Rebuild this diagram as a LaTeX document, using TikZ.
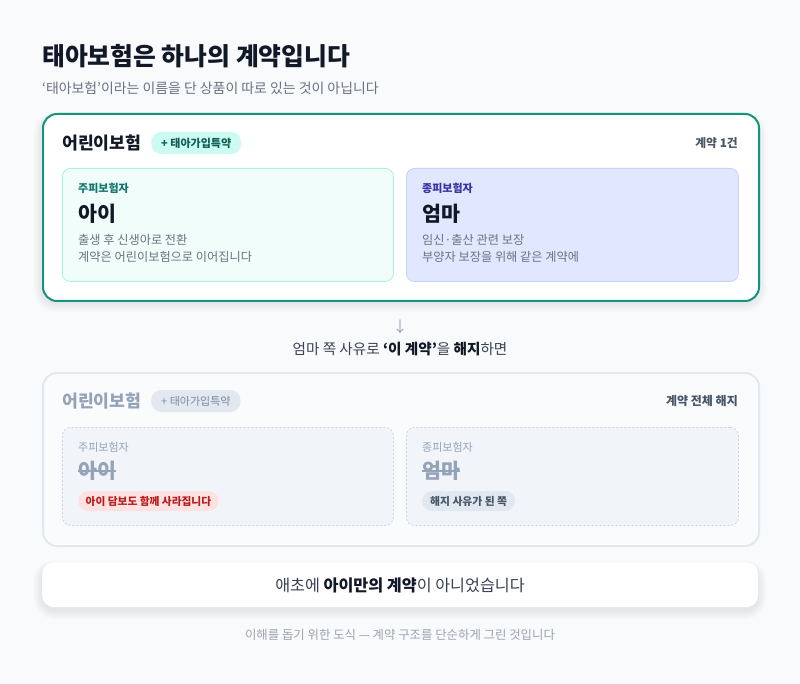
\documentclass[tikz,border=0pt]{standalone}
\usepackage{fontspec}
\setmainfont{Noto Sans CJK KR}
\definecolor{bgc}{HTML}{F8FAFC}
\definecolor{ink}{HTML}{111827}
\definecolor{subg}{HTML}{6B7280}
\definecolor{tealb}{HTML}{14937F}
\definecolor{pilltf}{HTML}{CCFBF1}
\definecolor{pilltt}{HTML}{115E59}
\definecolor{boxtf}{HTML}{F0FDFA}
\definecolor{boxtb}{HTML}{A7F3E0}
\definecolor{labt}{HTML}{0F766E}
\definecolor{boxif}{HTML}{E0E7FF}
\definecolor{boxib}{HTML}{C7D2FE}
\definecolor{labi}{HTML}{3730A3}
\definecolor{desc}{HTML}{6B7280}
\definecolor{meta}{HTML}{4B5563}
\definecolor{card2f}{HTML}{FAFBFC}
\definecolor{card2b}{HTML}{E2E8F0}
\definecolor{mute}{HTML}{94A3B8}
\definecolor{boxgf}{HTML}{F1F5F9}
\definecolor{boxgb}{HTML}{CBD5E1}
\definecolor{redf}{HTML}{FEE2E2}
\definecolor{redt}{HTML}{B91C1C}
\definecolor{grayf}{HTML}{E2E8F0}
\definecolor{grayt}{HTML}{475569}
\definecolor{midt}{HTML}{374151}
\definecolor{foot}{HTML}{9CA3AF}
\tikzset{
  txt/.style={inner sep=0pt, anchor=west},
  rtxt/.style={inner sep=0pt, anchor=east},
  ctxt/.style={inner sep=0pt, anchor=center},
  cardbox/.style={rounded corners=14pt, anchor=north west, inner sep=0pt},
  subbox/.style={rounded corners=8pt, anchor=north west, inner sep=0pt, line width=0.8pt},
  pill/.style={rounded corners=10pt, inner xsep=10pt, inner ysep=0pt, minimum height=22pt, anchor=west},
  shade1/.style={fill=black, fill opacity=0.014},
}
\begin{document}
\begin{tikzpicture}[x=1pt,y=-1pt]
\fill[bgc] (0,0) rectangle (800,684);
\useasboundingbox (0,0) rectangle (800,684);

% Title
\node[txt, font=\fontsize{24.8}{28}\selectfont\bfseries, text=ink] (title) at (42,56) {태아보험은 하나의 계약입니다};
\node[txt, font=\fontsize{13.9}{16}\selectfont, text=subg] (subtitle) at (42,88) {‘태아보험’이라는 이름을 단 상품이 따로 있는 것이 아닙니다};

% soft shadows
\foreach \d in {1,3,5,7,9}{
  \fill[shade1, rounded corners=14pt+\d pt] (42-\d*0.9,113+4-\d*0.6) rectangle (758+\d*0.9,300+3+\d);
  \fill[shade1, rounded corners=12pt+\d pt] (42-\d*0.9,562+4-\d*0.6) rectangle (758+\d*0.9,607+3+\d);
}

% Card 1
\node[cardbox, draw=tealb, line width=2pt, fill=white, minimum width=716pt, minimum height=187pt] (card1) at (42,113) {};
\node[txt, font=\fontsize{17.2}{20}\selectfont\bfseries, text=ink] (h1) at (62,143) {어린이보험};
\node[pill, fill=pilltf, text=pilltt, font=\fontsize{11}{13}\selectfont\bfseries] (p1) at (151,143) {+ 태아가입특약};
\node[rtxt, font=\fontsize{11.8}{14}\selectfont\bfseries, text=meta] (m1) at (738,143) {계약 1건};

\node[subbox, draw=boxtb, fill=boxtf, minimum width=331pt, minimum height=113pt] (b1l) at (62,168) {};
\node[txt, font=\fontsize{11}{13}\selectfont\bfseries, text=labt] (l1l) at (78,188) {주피보험자};
\node[txt, font=\fontsize{20.6}{24}\selectfont\bfseries, text=ink] (n1l) at (78,214) {아이};
\node[txt, font=\fontsize{12.2}{14}\selectfont, text=desc] (d1l) at (78,240) {출생 후 신생아로 전환};
\node[txt, font=\fontsize{12.2}{14}\selectfont, text=desc] (e1l) at (78,257) {계약은 어린이보험으로 이어집니다};

\node[subbox, draw=boxib, fill=boxif, minimum width=332pt, minimum height=113pt] (b1r) at (406,168) {};
\node[txt, font=\fontsize{11}{13}\selectfont\bfseries, text=labi] (l1r) at (422,188) {종피보험자};
\node[txt, font=\fontsize{20.6}{24}\selectfont\bfseries, text=ink] (n1r) at (422,214) {엄마};
\node[txt, font=\fontsize{12.2}{14}\selectfont, text=desc] (d1r) at (422,240) {임신·출산 관련 보장};
\node[txt, font=\fontsize{12.2}{14}\selectfont, text=desc] (e1r) at (422,257) {부양자 보장을 위해 같은 계약에};

% Arrow and condition
\node[ctxt, font=\fontsize{15}{17}\selectfont, text=mute] (arr) at (400,327) {↓};
\node[ctxt, font=\fontsize{14.6}{17}\selectfont, text=midt] (cond) at (400,349) {엄마 쪽 사유로 {\bfseries\color{ink}‘이 계약’}을 {\bfseries\color{ink}해지}하면};

% Card 2
\node[cardbox, draw=card2b, line width=2pt, fill=card2f, minimum width=716pt, minimum height=173pt] (card2) at (42,372) {};
\node[txt, font=\fontsize{17.2}{20}\selectfont\bfseries, text=mute] (h2) at (62,401) {어린이보험};
\node[pill, fill=grayf, text=mute!70!grayt, font=\fontsize{11}{13}\selectfont] (p2) at (151,401) {+ 태아가입특약};
\node[rtxt, font=\fontsize{12}{14}\selectfont\bfseries, text=grayt] (m2) at (738,401) {계약 전체 해지};

\node[subbox, draw=boxgb, dashed, dash pattern=on 2pt off 2pt, fill=boxgf, minimum width=331pt, minimum height=98pt] (b2l) at (62,427) {};
\node[txt, font=\fontsize{11}{13}\selectfont, text=mute] (l2l) at (78,447) {주피보험자};
\node[txt, font=\fontsize{20.6}{24}\selectfont\bfseries, text=mute] (n2l) at (78,471) {아이};
\draw[mute, line width=1.6pt] (n2l.west) -- (n2l.east);
\node[pill, fill=redf, text=redt, font=\fontsize{10.7}{12}\selectfont\bfseries, minimum height=20pt, inner xsep=7.5pt] (t2l) at (78,501) {아이 담보도 함께 사라집니다};

\node[subbox, draw=boxgb, dashed, dash pattern=on 2pt off 2pt, fill=boxgf, minimum width=332pt, minimum height=98pt] (b2r) at (406,427) {};
\node[txt, font=\fontsize{11}{13}\selectfont, text=mute] (l2r) at (422,447) {종피보험자};
\node[txt, font=\fontsize{20.6}{24}\selectfont\bfseries, text=mute] (n2r) at (422,471) {엄마};
\draw[mute, line width=1.6pt] (n2r.west) -- (n2r.east);
\node[pill, fill=grayf, text=grayt, font=\fontsize{10.8}{12}\selectfont\bfseries, minimum height=20pt, inner xsep=8pt] (t2r) at (422,501) {해지 사유가 된 쪽};

% Card 3
\node[cardbox, rounded corners=12pt, fill=white, minimum width=716pt, minimum height=45pt] (card3) at (42,562) {};
\node[ctxt, font=\fontsize{16.2}{19}\selectfont, text=midt] (concl) at (400,585) {애초에 {\bfseries\color{ink}아이만의 계약}이 아니었습니다};

% Footer
\node[ctxt, font=\fontsize{12.4}{14}\selectfont, text=foot] (footer) at (400,635) {이해를 돕기 위한 도식 — 계약 구조를 단순하게 그린 것입니다};
\end{tikzpicture}
\end{document}
